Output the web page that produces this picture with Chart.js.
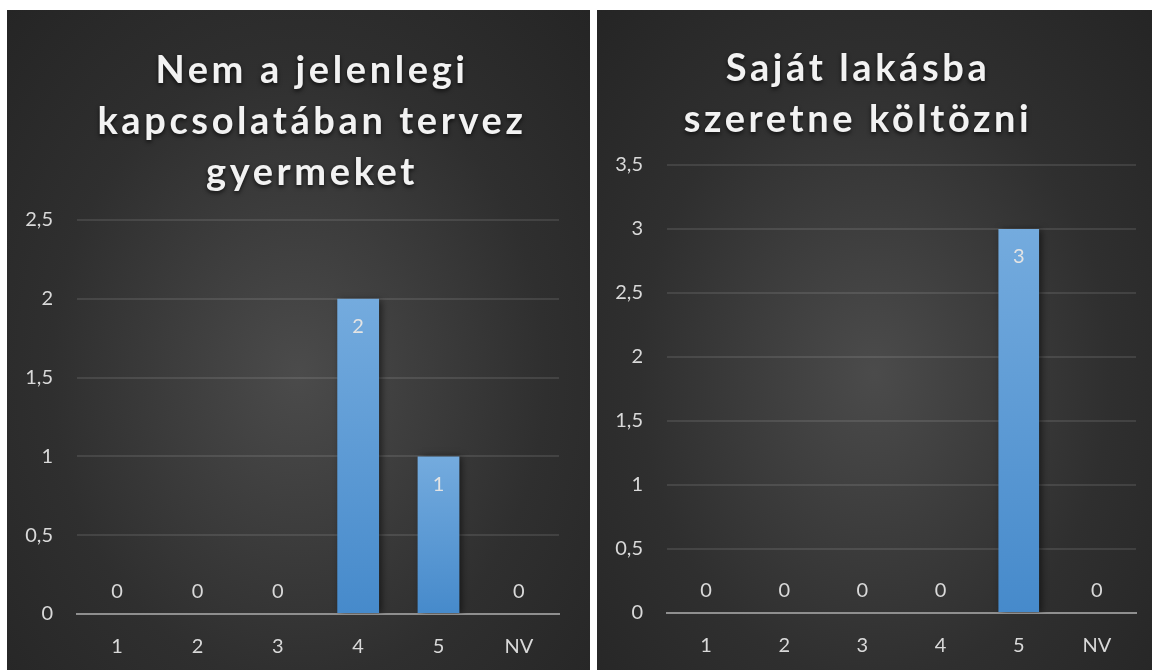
<!DOCTYPE html>
<html>
<head>
<meta charset="utf-8">
<script src="https://cdn.jsdelivr.net/npm/chart.js@4/dist/chart.umd.min.js"></script>
<style>
  html, body { margin: 0; padding: 0; background: #fff; }
  body { width: 1155px; height: 670px; position: relative; overflow: hidden; font-family: Lato, sans-serif; }
  .panel {
    position: absolute; top: 10px; height: 660px;
    background: radial-gradient(ellipse farthest-corner at 50% 55%, #4b4b4b 0%, #2f2f2f 60%, #252525 100%);
  }
  #panelLeft { left: 7px; width: 583px; }
  #panelRight { left: 597px; width: 555px; }
  .panel canvas { position: absolute; left: 0; top: 0; }
  .title {
    position: absolute; text-align: center; color: #f2f2f2;
    font: bold 38px Lato, sans-serif; letter-spacing: 3.6px; line-height: 51px;
    text-shadow: 0 2px 4px rgba(0,0,0,0.7);
    white-space: nowrap;
  }
</style>
</head>
<body>
<div class="panel" id="panelLeft">
  <canvas id="chartLeft"></canvas>
  <div class="title" id="titleLeft" style="left:5px; width:600px; top:33px;">Nem a jelenlegi<br>kapcsolatában tervez<br>gyermeket</div>
</div>
<div class="panel" id="panelRight">
  <canvas id="chartRight"></canvas>
  <div class="title" id="titleRight" style="left:-39px; width:600px; top:31px;">Saját lakásba<br>szeretne költözni</div>
</div>
<script>
// Category labels (same for both charts)
const categories = ['1', '2', '3', '4', '5', 'NV'];

// Left chart: Nem a jelenlegi kapcsolatában tervez gyermeket
const leftValues = [0, 0, 0, 2, 1, 0];
const leftMax = 2.5;

// Right chart: Saját lakásba szeretne költözni
const rightValues = [0, 0, 0, 0, 3, 0];
const rightMax = 3.5;

const tickColor = '#d9d9d9';
const gridColor = 'rgba(255, 255, 255, 0.1)';
const axisColor = '#8f8f8f';

// Per-bar vertical gradient, computed from the scale
function barGradient(ctx) {
    const chart = ctx.chart;
    const y = chart.scales.y;
    if (!chart.chartArea || !y) return '#5b9bd5';
    const top = y.getPixelForValue(ctx.raw);
    const base = y.getPixelForValue(0);
    if (!isFinite(top) || Math.abs(base - top) < 1) return '#5b9bd5';
    const g = chart.ctx.createLinearGradient(0, top, 0, base);
    g.addColorStop(0, '#74abde');
    g.addColorStop(1, '#468acb');
    return g;
}

// Drop shadow for bars
const barShadow = {
    id: 'barShadow',
    beforeDatasetsDraw(chart) {
        const ctx = chart.ctx;
        ctx.save();
        ctx.shadowColor = 'rgba(0, 0, 0, 0.55)';
        ctx.shadowBlur = 7;
        ctx.shadowOffsetX = 3;
        ctx.shadowOffsetY = 1;
    },
    afterDatasetsDraw(chart) {
        chart.ctx.restore();
    }
};

// Value labels: inside top of bar, or above the axis for zeros
const valueLabels = {
    id: 'valueLabels',
    afterDraw(chart) {
        const ctx = chart.ctx;
        const meta = chart.getDatasetMeta(0);
        const values = chart.data.datasets[0].data;
        ctx.save();
        ctx.font = '20px Lato, sans-serif';
        ctx.textAlign = 'center';
        ctx.textBaseline = 'middle';
        meta.data.forEach((bar, i) => {
            const v = values[i];
            const txt = String(v).replace('.', ',');
            if (v > 0) {
                ctx.fillStyle = '#e4e4e4';
                ctx.fillText(txt, bar.x, bar.y + 28);
            } else {
                ctx.fillStyle = tickColor;
                ctx.fillText(txt, bar.x, bar.base - 22);
            }
        });
        ctx.restore();
    }
};

function makeChart(id, values, max, pad, xHeight) {
    const ctx = document.getElementById(id).getContext('2d');
    return new Chart(ctx, {
        type: 'bar',
        data: {
            labels: categories,
            datasets: [{
                data: values,
                backgroundColor: barGradient,
                borderWidth: 0,
                barPercentage: 1,
                categoryPercentage: 0.52
            }]
        },
        options: {
            responsive: true,
            maintainAspectRatio: false,
            animation: false,
            layout: { padding: pad },
            plugins: {
                legend: { display: false },
                tooltip: { enabled: false },
                title: { display: false }
            },
            scales: {
                x: {
                    z: 1,
                    grid: { display: false, drawTicks: false },
                    border: { display: true, color: axisColor, width: 2 },
                    ticks: {
                        color: tickColor,
                        font: { family: 'Lato, sans-serif', size: 20 },
                        padding: 21
                    },
                    afterFit: s => { s.height = xHeight; }
                },
                y: {
                    min: 0,
                    max: max,
                    grid: {
                        color: c => c.tick.value === 0 ? 'rgba(0,0,0,0)' : gridColor,
                        lineWidth: 2,
                        drawTicks: false
                    },
                    border: { display: false },
                    ticks: {
                        stepSize: 0.5,
                        color: tickColor,
                        font: { family: 'Lato, sans-serif', size: 20 },
                        padding: 24,
                        callback: v => String(v).replace('.', ',')
                    },
                    afterFit: s => { s.width = 70; }
                }
            }
        },
        plugins: [barShadow, valueLabels]
    });
}

makeChart('chartLeft', leftValues, leftMax, { top: 210, right: 31, left: 0, bottom: 0 }, 56);
makeChart('chartRight', rightValues, rightMax, { top: 155, right: 16, left: 0, bottom: 0 }, 57);
</script>
</body>
</html>
